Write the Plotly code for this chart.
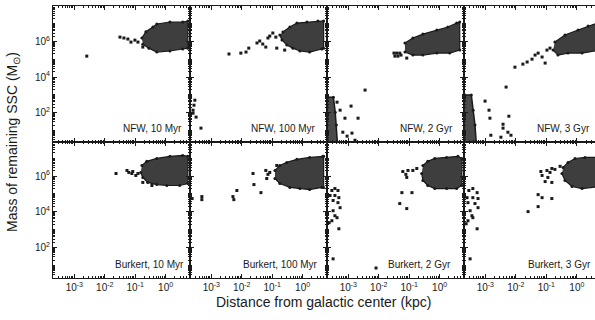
import numpy as np
import plotly.graph_objects as go
from plotly.subplots import make_subplots

# ---------------- data (log10 of distance in kpc, log10 of mass in Msun) -------------
panel_titles = ["NFW, 10 Myr", "NFW, 100 Myr", "NFW, 2 Gyr", "NFW, 3 Gyr",
                "Burkert, 10 Myr", "Burkert, 100 Myr", "Burkert, 2 Gyr", "Burkert, 3 Gyr"]

# dense clusters (outline of the crowded region)
nfw10_blob_r = [-0.78, -0.65, -0.42, -0.29, 0.14, 0.56, 0.73, 0.73, 0.56, 0.14, -0.29, -0.55, -0.75]
nfw10_blob_m = [6.20, 6.55, 6.82, 6.99, 7.10, 7.10, 7.15, 5.63, 5.58, 5.47, 5.41, 5.63, 5.85]
nfw100_blob_r = [-0.65, -0.42, -0.19, 0.14, 0.50, 0.69, 0.69, 0.63, 0.23, -0.09, -0.32, -0.52, -0.68, -0.75]
nfw100_blob_m = [6.54, 6.82, 7.04, 7.10, 7.16, 7.16, 5.63, 5.58, 5.41, 5.47, 5.63, 5.80, 6.09, 6.37]
nfw2g_blob_r = [-1.14, -0.88, -0.55, -0.09, 0.27, 0.56, 0.66, 0.66, 0.33, -0.09, -0.55, -0.88, -1.14]
nfw2g_blob_m = [5.92, 6.20, 6.42, 6.65, 6.82, 7.04, 7.10, 5.52, 5.35, 5.35, 5.24, 5.24, 5.41]
nfw3g_blob_r = [-0.72, -0.39, 0.04, 0.37, 0.76, 0.76, 0.17, -0.29, -0.62, -0.78]
nfw3g_blob_m = [5.97, 6.37, 6.65, 6.87, 7.10, 5.52, 5.35, 5.35, 5.24, 5.52]
bur10_blob_r = [-0.78, -0.62, -0.29, 0.14, 0.56, 0.73, 0.73, 0.46, 0.04, -0.29, -0.59, -0.75, -0.82]
bur10_blob_m = [6.59, 6.82, 6.98, 7.10, 7.15, 7.10, 5.58, 5.47, 5.47, 5.52, 5.64, 5.92, 6.20]
bur100_blob_r = [-0.91, -0.75, -0.52, -0.19, 0.23, 0.66, 0.69, 0.69, 0.63, 0.23, -0.09, -0.42, -0.75, -0.91]
bur100_blob_m = [6.31, 6.59, 6.76, 6.93, 7.04, 7.10, 7.10, 5.36, 5.36, 5.24, 5.30, 5.36, 5.58, 5.86]
bur2g_blob_r = [-0.55, -0.39, -0.16, 0.23, 0.60, 0.73, 0.73, 0.56, 0.23, -0.16, -0.39, -0.55, -0.59]
bur2g_blob_m = [6.59, 6.82, 6.98, 7.04, 7.10, 6.98, 5.47, 5.30, 5.30, 5.30, 5.47, 5.75, 6.14]
bur3g_blob_r = [-0.45, -0.29, -0.06, 0.27, 0.76, 0.76, 0.17, -0.16, -0.39, -0.49]
bur3g_blob_m = [6.48, 6.76, 6.98, 7.04, 7.04, 5.41, 5.30, 5.41, 5.75, 6.14]

# narrow strips of dissolved clusters close to the centre
nfw2g_core_r = [-3.67, -3.49, -3.43, -3.39, -3.36, -3.67]
nfw2g_core_m = [2.87, 2.87, 2.03, 1.30, 0.35, 0.35]
nfw3g_core_r = [-3.67, -3.46, -3.40, -3.34, -3.30, -3.67]
nfw3g_core_m = [2.99, 2.99, 2.14, 1.30, 0.35, 0.35]

# individual clusters
nfw10_pts_r = [-2.59, -1.50, -1.37, -1.24, -1.14, -1.01, -0.91, -0.75]
nfw10_pts_m = [5.18, 6.25, 6.20, 6.14, 5.97, 6.08, 5.97, 5.69]
nfw100_pts_r = [-2.42, -2.03, -1.86, -1.77, -1.50, -1.41, -1.31, -1.21, -1.14, -1.08, -0.98, -0.88, -0.85, -0.59,
                -3.54, -3.57, -3.60, -3.60, -3.50, -3.34]
nfw100_pts_m = [5.30, 5.35, 5.41, 5.63, 5.92, 6.03, 5.86, 5.69, 6.20, 6.31, 6.48, 6.25, 5.63, 5.52,
                2.70, 2.42, 2.14, 1.97, 1.75, 1.13]
nfw2g_pts_r = [-1.50, -1.41, -1.31, -1.47, -1.37, -1.27, -1.08,
               -3.37, -3.27, -3.11, -2.91, -2.68, -2.45, -3.18, -3.04, -2.88, -2.78]
nfw2g_pts_m = [5.35, 5.35, 5.35, 5.18, 5.18, 5.24, 5.07,
               2.59, 2.14, 1.69, 2.37, 1.69, 3.27, 0.90, 0.68, 0.85, 0.45]
nfw3g_pts_r = [-2.03, -1.77, -1.63, -1.47, -1.37, -1.27, -1.14, -1.04, -0.98, -0.88,
               -3.01, -2.88, -2.85, -2.32, -2.23, -2.42, -2.42, -2.82, -2.49, -2.26, -2.16]
nfw3g_pts_m = [4.56, 4.73, 4.85, 5.01, 5.24, 5.35, 5.13, 4.79, 5.52, 5.63,
               2.65, 2.14, 1.69, 3.44, 1.80, 1.35, 1.13, 0.73, 0.62, 0.90, 0.73]
bur10_pts_r = [-1.63, -1.27, -1.21, -1.11, -1.08, -0.98, -0.91, -0.75, -0.45]
bur10_pts_m = [6.14, 6.31, 6.20, 6.14, 6.25, 6.03, 6.14, 5.64, 5.47]
bur100_pts_r = [-1.63, -1.60, -1.37, -1.21, -1.14, -1.18, -1.08, -0.85, -2.16, -2.29, -2.26, -3.31, -3.31, -3.63]
bur100_pts_m = [6.14, 5.52, 5.07, 6.31, 6.09, 5.86, 6.20, 6.59, 5.19, 4.85, 4.68, 4.85, 4.68, 4.74]
bur2g_pts_r = [-1.21, -1.11, -1.04, -0.88, -0.75, -1.08, -1.24, -0.91, -1.31, -1.08, -2.09,
               -3.54, -3.44, -3.34, -3.60, -3.44, -3.31, -3.50, -3.34, -3.27, -3.50, -3.44, -3.37,
               -3.54, -3.63, -3.31, -3.50]
bur2g_pts_m = [6.25, 6.09, 6.31, 6.31, 6.42, 5.92, 5.07, 5.07, 4.46, 4.18, 0.86,
               5.19, 5.30, 5.19, 4.91, 4.91, 4.79, 4.63, 4.51, 4.23, 4.06, 3.78, 3.67,
               3.50, 3.39, 3.05, 1.37]
bur3g_pts_r = [-1.18, -1.14, -0.98, -0.88, -0.82, -0.72, -0.95, -0.82, -1.04, -0.55, -1.27, -1.14, -0.82,
               -1.27, -1.60,
               -3.54, -3.41, -3.27, -3.60, -3.41, -3.24, -3.57, -3.34, -3.24, -3.50, -3.44, -3.41,
               -3.57, -3.63, -3.27, -3.50]
bur3g_pts_m = [6.25, 6.03, 6.31, 6.20, 6.42, 6.37, 5.92, 5.64, 5.69, 6.54, 4.96, 4.79, 4.74,
               4.29, 4.01,
               5.19, 5.30, 5.07, 4.79, 4.79, 4.74, 4.51, 4.46, 4.23, 4.06, 3.78, 3.67,
               3.50, 3.33, 3.05, 1.37]

blobs = [(nfw10_blob_r, nfw10_blob_m), (nfw100_blob_r, nfw100_blob_m), (nfw2g_blob_r, nfw2g_blob_m),
         (nfw3g_blob_r, nfw3g_blob_m), (bur10_blob_r, bur10_blob_m), (bur100_blob_r, bur100_blob_m),
         (bur2g_blob_r, bur2g_blob_m), (bur3g_blob_r, bur3g_blob_m)]
cores = {2: (nfw2g_core_r, nfw2g_core_m), 3: (nfw3g_core_r, nfw3g_core_m)}
points = [(nfw10_pts_r, nfw10_pts_m), (nfw100_pts_r, nfw100_pts_m), (nfw2g_pts_r, nfw2g_pts_m),
          (nfw3g_pts_r, nfw3g_pts_m), (bur10_pts_r, bur10_pts_m), (bur100_pts_r, bur100_pts_m),
          (bur2g_pts_r, bur2g_pts_m), (bur3g_pts_r, bur3g_pts_m)]

x_tick_vals = [1e-3, 1e-2, 1e-1, 1e0]
x_tick_text = ["10<sup>-3</sup>", "10<sup>-2</sup>", "10<sup>-1</sup>", "10<sup>0</sup>"]
y_tick_vals = [1e2, 1e4, 1e6]
y_tick_text = ["10<sup>2</sup>", "10<sup>4</sup>", "10<sup>6</sup>"]

# ---------------- figure ----------------
FONT = "Liberation Sans, Arial, Helvetica, sans-serif"
INK = "#1a1a1a"
fig = make_subplots(rows=2, cols=4, horizontal_spacing=0, vertical_spacing=0,
                    column_widths=[137, 137, 137, 131], row_heights=[0.5, 0.5])

for i in range(8):
    row, col = i // 4 + 1, i % 4 + 1
    br, bm = blobs[i]
    fig.add_trace(go.Scatter(x=10 ** np.array(br), y=10 ** np.array(bm), mode="lines+markers",
                             fill="toself", fillcolor="#3e3e3e",
                             line=dict(color=INK, width=1.2), marker=dict(size=3, color=INK),
                             hoverinfo="skip", showlegend=False), row=row, col=col)
    if i in cores:
        cr, cm = cores[i]
        fig.add_trace(go.Scatter(x=10 ** np.array(cr), y=10 ** np.array(cm), mode="lines+markers",
                                 fill="toself", fillcolor="#4a4a4a",
                                 line=dict(color=INK, width=1.5), marker=dict(size=3, color=INK),
                                 hoverinfo="skip", showlegend=False), row=row, col=col)
    pr, pm = points[i]
    fig.add_trace(go.Scatter(x=10 ** np.array(pr), y=10 ** np.array(pm), mode="markers",
                             marker=dict(size=3, color=INK, symbol="square"),
                             showlegend=False), row=row, col=col)

minor_x = [m * 10.0 ** k for k in range(-4, 1) for m in range(2, 10)]
minor_y = [m * 10.0 ** k for k in range(0, 8) for m in range(1, 10) if not (m == 1 and k % 2 == 0)]

for i in range(8):
    row, col = i // 4 + 1, i % 4 + 1
    xr = [-3.7, 0.8] if col < 4 else [-3.7, 0.595]
    yr = [0.35, 8.0] if row == 1 else [0.3, 7.9]
    fig.update_xaxes(type="log", range=xr, tickvals=x_tick_vals, ticktext=x_tick_text,
                     showticklabels=(row == 2), ticks="inside", ticklen=4, tickcolor=INK,
                     showline=True, linecolor=INK, linewidth=1, mirror="ticks",
                     showgrid=False, zeroline=False,
                     minor=dict(tickvals=minor_x, ticks="inside", ticklen=2, tickcolor=INK),
                     tickfont=dict(size=10, color=INK, family=FONT), row=row, col=col)
    fig.update_yaxes(type="log", range=yr, tickvals=y_tick_vals, ticktext=y_tick_text,
                     showticklabels=(col == 1), ticks="inside", ticklen=4, tickcolor=INK,
                     showline=True, linecolor=INK, linewidth=1,
                     mirror=("ticks" if col < 4 else False),
                     showgrid=False, zeroline=False,
                     minor=dict(tickvals=minor_y, ticks="inside", ticklen=2, tickcolor=INK),
                     tickfont=dict(size=10, color=INK, family=FONT), row=row, col=col)

# panel labels
label_insets = [6, 9, 9, 3, 4, 7, 11, 2]
col_w = [137, 137, 137, 131]
for i, txt in enumerate(panel_titles):
    row, col = i // 4 + 1, i % 4 + 1
    n = i + 1
    xref = "x domain" if n == 1 else f"x{n} domain"
    yref = "y domain" if n == 1 else f"y{n} domain"
    fig.add_annotation(text=txt, xref=xref, yref=yref, x=1 - label_insets[i] / col_w[col - 1],
                       y=13.5 / 136, xanchor="right", yanchor="middle", showarrow=False,
                       font=dict(size=10, color=INK, family=FONT))

fig.add_annotation(text="Mass of remaining SSC (M<sub>\u2299</sub>)", xref="paper", yref="paper",
                   x=-53 / 542 + 13 / 542, y=0.5, xanchor="center", yanchor="middle", textangle=-90,
                   showarrow=False, font=dict(size=14, color=INK, family=FONT))
fig.add_annotation(text="Distance from galactic center (kpc)", xref="paper", yref="paper",
                   x=(324 - 53) / 542, y=-(302 - 278) / 272, xanchor="center", yanchor="middle",
                   showarrow=False, font=dict(size=14, color=INK, family=FONT))

fig.update_layout(width=595, height=320, margin=dict(l=53, r=0, t=6, b=42),
                  paper_bgcolor="white", plot_bgcolor="white",
                  font=dict(family=FONT, color=INK))

fig.write_html("out.html", config={"displayModeBar": False},
               post_script="document.body.style.margin='0px';document.body.style.overflow='hidden';")
